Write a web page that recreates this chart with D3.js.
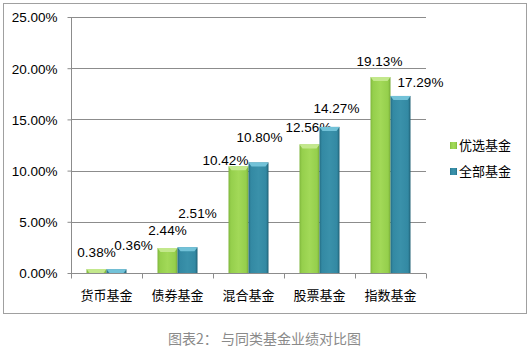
<!DOCTYPE html>
<html><head><meta charset="utf-8">
<script src="https://cdn.jsdelivr.net/npm/d3@7/dist/d3.min.js"></script>
<style>body{margin:0;background:#fff}svg{display:block}</style>
</head><body>
<script>
const categories = ["货币基金","债券基金","混合基金","股票基金","指数基金"];
const seriesNames = ["优选基金","全部基金"];
const youxuan = [0.38, 2.44, 10.42, 12.56, 19.13];
const quanbu = [0.36, 2.51, 10.80, 14.27, 17.29];
const yTicks = [0,5,10,15,20,25];
const caption = "图表2： 与同类基金业绩对比图";
// label nudges (dx from bar center, gap above bar top) as placed in the original
const labelNudgeA = [[0,12],[0,13],[-13,1],[-1,12],[-1,11]];
const labelNudgeB = [[17,19],[10,29],[1,20],[7,14],[20,9]];

const W=530,H=358;
const svg=d3.select("body").append("svg").attr("width",W).attr("height",H);
const defs=svg.append("defs");
function grad(id,stops){const g=defs.append("linearGradient").attr("id",id).attr("x1","0").attr("x2","1").attr("y1","0").attr("y2","0");
 stops.forEach(s=>g.append("stop").attr("offset",s[0]).attr("stop-color",s[1]));}
grad("gA",[[0,"#7fb63c"],[0.12,"#95cf4c"],[0.5,"#a2d958"],[0.88,"#95cf4c"],[1,"#76aa36"]]);
grad("gB",[[0,"#246c82"],[0.12,"#3389a3"],[0.5,"#3a91aa"],[0.88,"#3389a3"],[1,"#1f5f73"]]);
const capA="#c3e88c", capB="#72c2d8";

svg.append("rect").attr("x",3.5).attr("y",3.5).attr("width",523).attr("height",310).attr("fill","#fff").attr("stroke","#a0a0a0");

const x0=d3.scaleBand().domain(categories).range([71,426]).paddingInner(0).paddingOuter(0);
const x1=d3.scaleBand().domain(seriesNames).range([15.5,55.5]);
const y=d3.scaleLinear().domain([0,25]).range([273,17]);

// gridlines
svg.append("g").selectAll("line").data(yTicks.filter(d=>d>0)).join("line")
 .attr("x1",71).attr("x2",426).attr("y1",d=>Math.round(y(d))+0.5).attr("y2",d=>Math.round(y(d))+0.5)
 .attr("stroke","#8c8c8c").attr("stroke-width",1);

// y axis
const yAxis=d3.axisLeft(y).tickValues(yTicks).tickSize(4).tickFormat(d=>d.toFixed(2)+"%");
const ga=svg.append("g").attr("transform","translate(71.5,0)").call(yAxis);
ga.select(".domain").attr("stroke","#8c8c8c").attr("d","M0,17V273");
ga.selectAll(".tick line").attr("stroke","#8c8c8c");
ga.selectAll(".tick text").attr("x",-14).attr("dy","0.36em").attr("fill","#000")
 .style("font-family","'Liberation Sans',Arial,sans-serif").style("font-size","13.5px");

// x axis
const gx=svg.append("g").attr("transform","translate(0,273.5)");
gx.append("line").attr("x1",71).attr("x2",426).attr("stroke","#8c8c8c");
gx.selectAll("line.t").data(d3.range(categories.length+1)).join("line").attr("class","t")
 .attr("x1",i=>Math.round(71+i*x0.bandwidth())+0.5).attr("x2",i=>Math.round(71+i*x0.bandwidth())+0.5)
 .attr("y1",0).attr("y2",5).attr("stroke","#8c8c8c");
gx.selectAll("text").data(categories).join("text")
 .attr("x",d=>x0(d)+x0.bandwidth()/2).attr("y",26).attr("text-anchor","middle")
 .style("font-family","'Noto Sans CJK SC',sans-serif").style("font-size","13px").attr("fill","#000").text(d=>d);

const series=[{name:seriesNames[0],vals:youxuan,fill:"url(#gA)",cap:capA,nudge:labelNudgeA},
              {name:seriesNames[1],vals:quanbu,fill:"url(#gB)",cap:capB,nudge:labelNudgeB}];
series.forEach(s=>{
 const g=svg.append("g");
 const bw=x1.bandwidth();
 s.vals.forEach((v,i)=>{
  const bx=x0(categories[i])+x1(s.name), top=y(v), h=y(0)-top;
  g.append("rect").attr("x",bx).attr("y",top).attr("width",bw).attr("height",h).attr("fill",s.fill);
  const c=Math.min(4,h);
  g.append("path").attr("d",`M${bx},${top}H${bx+bw}L${bx+bw-3},${top+c}H${bx+3}Z`).attr("fill",s.cap);
  g.append("text").attr("x",bx+bw/2+s.nudge[i][0]).attr("y",top-s.nudge[i][1]).attr("text-anchor","middle")
   .style("font-family","'Liberation Sans',Arial,sans-serif").style("font-size","13.5px").attr("fill","#000")
   .text(v.toFixed(2)+"%");
 });
});

// legend
const lg=svg.append("g");
series.forEach((s,i)=>{
 const yy=145+i*26;
 lg.append("rect").attr("x",450).attr("y",yy-3).attr("width",7).attr("height",7).attr("fill",s.fill);
 lg.append("text").attr("x",459).attr("y",yy+5).style("font-family","'Noto Sans CJK SC',sans-serif")
  .style("font-size","13px").attr("fill","#000").text(s.name);
});

svg.append("text").attr("x",168).attr("y",344).style("font-family","'Noto Sans CJK SC',sans-serif")
 .style("font-size","14px").attr("fill","#8a8a8a").text(caption);
</script>
</body></html>
